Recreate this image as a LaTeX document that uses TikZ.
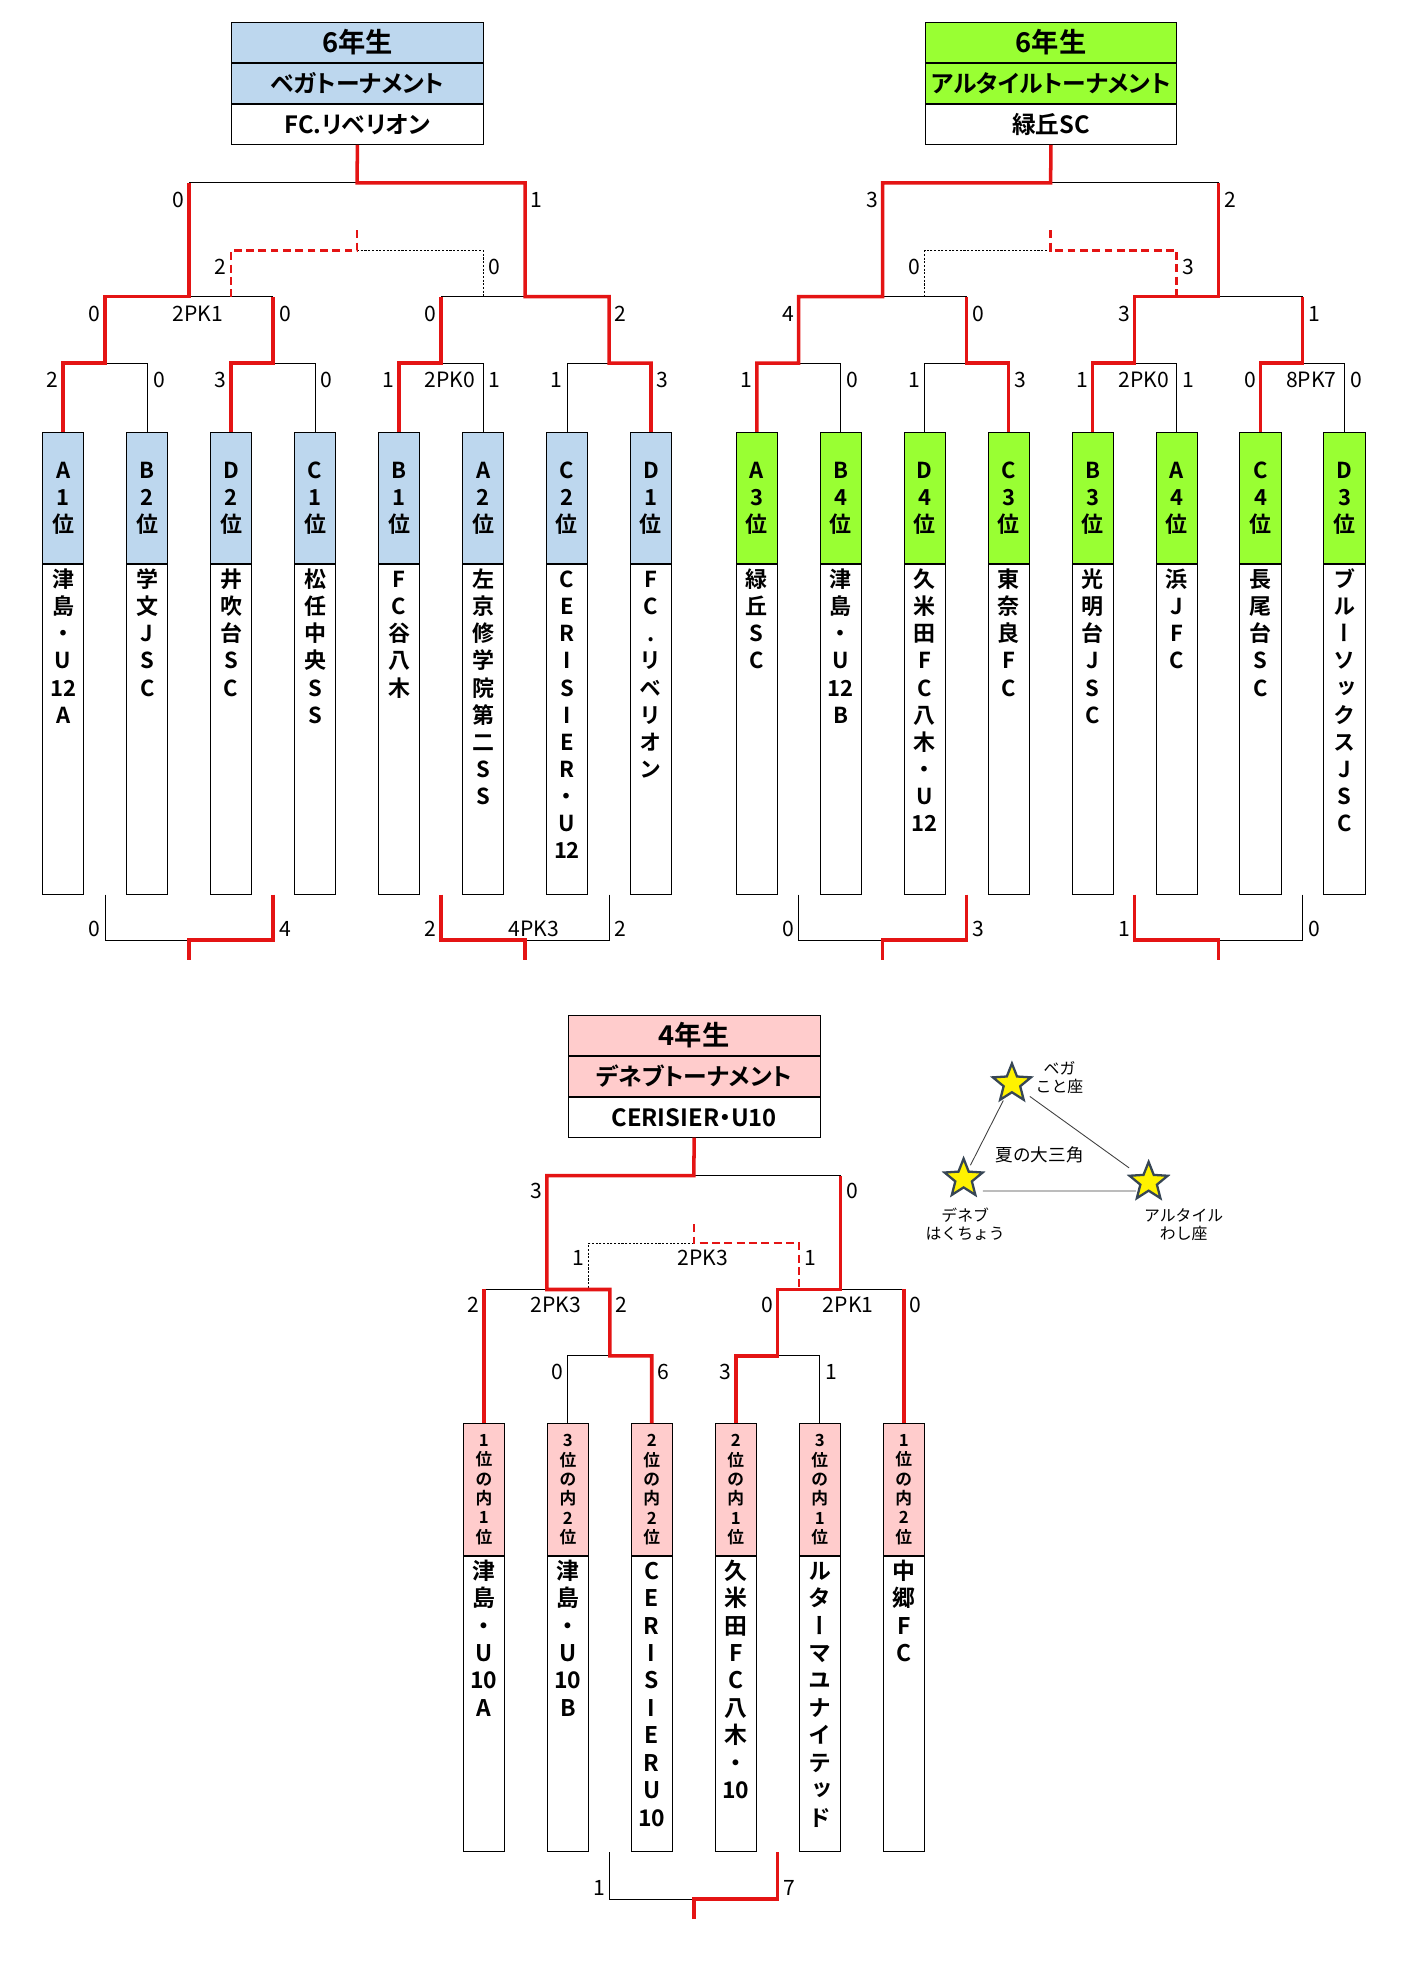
\documentclass[tikz,border=0pt]{standalone}
\usepackage{fontspec}
\setmainfont{Noto Sans CJK JP}[BoldFont={Noto Sans CJK JP Bold}]
\newfontfamily\titlejp{Noto Sans CJK JP}[BoldFont={Noto Sans CJK JP Bold}, RawFeature=+palt]
\newfontfamily\vertjp{Noto Sans CJK JP}[BoldFont={Noto Sans CJK JP Bold}, RawFeature=+vert]
\usetikzlibrary{shapes.geometric}

\definecolor{vegablue}{RGB}{189,215,238}
\definecolor{altairgreen}{RGB}{153,255,51}
\definecolor{denebpink}{RGB}{255,204,204}
\definecolor{winred}{RGB}{228,20,20}
\definecolor{staredge}{RGB}{55,70,85}

\newcommand{\teamname}[2]{\parbox[t][#1][t]{0.825cm}{\centering\rule{0pt}{13pt}#2}}

\tikzset{
  lose/.style={draw=black, line width=0.55pt},
  win/.style={draw=winred, line width=2pt},
  thirdwin/.style={draw=winred, line width=1.4pt, dash pattern=on 4.5pt off 2.5pt},
  thirdlose/.style={draw=black, line width=0.5pt, dash pattern=on 1.2pt off 0.9pt},
  titlerow/.style={draw, line width=0.5pt, minimum width=5.025cm, minimum height=0.8cm, inner sep=0pt, font=\titlejp\bfseries\fontsize{13.5}{14}\selectfont},
  gradetext/.style={font=\titlejp\bfseries\fontsize{15.5}{16}\selectfont},
  headbox/.style={draw, line width=0.5pt, fill=#1, minimum width=0.825cm, minimum height=2.625cm, inner sep=0pt, anchor=north, align=center, font=\bfseries\fontsize{12.5}{15.3}\selectfont},
  smallhead/.style={headbox=denebpink, font=\bfseries\fontsize{9.5}{11}\selectfont},
  teambox/.style={draw, line width=0.5pt, minimum width=0.825cm, inner sep=0pt, anchor=north, font=\vertjp\bfseries\fontsize{12.5}{15.4}\selectfont},
  bigteam/.style={teambox, font=\vertjp\bfseries\fontsize{13}{15.6}\selectfont},
  score/.style={inner sep=1pt, font=\fontsize{12}{13}\selectfont},
  lscore/.style={score, anchor=east},
  rscore/.style={score, anchor=west},
  starmark/.style={star, star points=5, star point ratio=2.3, minimum size=0.8cm, inner sep=0pt, fill=yellow, draw=staredge, line width=1.3pt},
  triline/.style={draw=black!75, line width=0.5pt},
  starlabel/.style={align=center, font=\fontsize{9}{10.4}\selectfont},
}

\begin{document}
\begin{tikzpicture}[x=0.025cm, y=-0.025cm]
  \useasboundingbox (0,0) rectangle (1125,1568);

  % ベガトーナメント
  \node[titlerow, fill=vegablue, gradetext] (vgrade) at (285.5,34) {6年生};
  \node[titlerow, fill=vegablue, anchor=north] (vname) at (vgrade.south) {ベガトーナメント};
  \node[titlerow, anchor=north] (vchamp) at (vname.south) {FC.リベリオン};

  \node[headbox=vegablue] (v1) at (50.5,345) {A\\1\\位};
  \node[headbox=vegablue] (v2) at (117.6,345) {B\\2\\位};
  \node[headbox=vegablue] (v3) at (184.6,345) {D\\2\\位};
  \node[headbox=vegablue] (v4) at (251.7,345) {C\\1\\位};
  \node[headbox=vegablue] (v5) at (318.8,345) {B\\1\\位};
  \node[headbox=vegablue] (v6) at (385.9,345) {A\\2\\位};
  \node[headbox=vegablue] (v7) at (452.9,345) {C\\2\\位};
  \node[headbox=vegablue] (v8) at (520.0,345) {D\\1\\位};
  \node[teambox] (v1n) at (v1.south) {\teamname{6.575cm}{津\\島\\・\\U\\12\\A}};
  \node[teambox] (v2n) at (v2.south) {\teamname{6.575cm}{学\\文\\J\\S\\C}};
  \node[teambox] (v3n) at (v3.south) {\teamname{6.575cm}{井\\吹\\台\\S\\C}};
  \node[teambox] (v4n) at (v4.south) {\teamname{6.575cm}{松\\任\\中\\央\\S\\S}};
  \node[teambox] (v5n) at (v5.south) {\teamname{6.575cm}{F\\C\\谷\\八\\木}};
  \node[teambox] (v6n) at (v6.south) {\teamname{6.575cm}{左\\京\\修\\学\\院\\第\\二\\S\\S}};
  \node[teambox] (v7n) at (v7.south) {\teamname{6.575cm}{C\\E\\R\\I\\S\\I\\E\\R\\・\\U\\12}};
  \node[teambox] (v8n) at (v8.south) {\teamname{6.575cm}{F\\C\\.\\リ\\ベ\\リ\\オ\\ン}};

  \coordinate (vF) at (285.2,146);
  \coordinate (vS1) at (151.1,237);
  \coordinate (vS2) at (419.4,237);
  \coordinate (vQ1) at (84.0,290);
  \coordinate (vQ2) at (218.2,290);
  \coordinate (vQ3) at (352.3,290);
  \coordinate (vQ4) at (486.5,290);
  \coordinate (vT) at (285.2,184);
  \coordinate (vTc) at (285.2,200);
  \coordinate (vTL) at (184.6,237);
  \coordinate (vTR) at (385.9,237);
  \coordinate (vC1) at (151.1,751);
  \coordinate (vC1e) at (151.1,767);
  \coordinate (vC2) at (419.4,751);
  \coordinate (vC2e) at (419.4,767);

  \draw[lose] (v2.north) |- (vQ1);
  \draw[lose] (v4.north) |- (vQ2);
  \draw[lose] (v6.north) |- (vQ3);
  \draw[lose] (v7.north) |- (vQ4);
  \draw[lose] (vQ2 |- vS1) -- (vS1);
  \draw[lose] (vQ3 |- vS2) -- (vS2);
  \draw[lose] (vS1 |- vF) -- (vF);
  \draw[thirdlose] (vTc) -| (vTR);
  \draw[lose] (vQ1 |- v1n.south) |- (vC1);
  \draw[lose] (vQ4 |- v1n.south) |- (vC2);
  \draw[win] (v1.north) |- (vQ1) |- (vS1) -- (vS1 |- vF);
  \draw[win] (v3.north) |- (vQ2) -- (vQ2 |- vS1);
  \draw[win] (v5.north) |- (vQ3) -- (vQ3 |- vS2);
  \draw[win] (v8.north) |- (vQ4) |- (vS2) |- (vF) -- (vchamp.south);
  \draw[thirdwin] (vT) -- (vTc) -| (vTL);
  \draw[win] (vQ2 |- v1n.south) |- (vC1) -- (vC1e);
  \draw[win] (vQ3 |- v1n.south) |- (vC2) -- (vC2e);

  \node[lscore] (vFl) at (149.1,160) {0};
  \node[rscore] (vFr) at (422.4,160) {1};
  \node[lscore] (vTl) at (182.6,213) {2};
  \node[rscore] (vTr) at (388.9,213) {0};
  \node[lscore] (vS1l) at (82.0,250.5) {0};
  \node[score] (vS1pk) at (158.1,250.5) {2PK1};
  \node[rscore] (vS1r) at (221.2,250.5) {0};
  \node[lscore] (vS2l) at (350.3,250.5) {0};
  \node[rscore] (vS2r) at (489.5,250.5) {2};
  \node[lscore] (vQ1l) at (48.5,303.5) {2};
  \node[rscore] (vQ1r) at (120.6,303.5) {0};
  \node[lscore] (vQ2l) at (182.6,303.5) {3};
  \node[rscore] (vQ2r) at (254.7,303.5) {0};
  \node[lscore] (vQ3l) at (316.8,303.5) {1};
  \node[score] (vQ3pk) at (359.5,303.5) {2PK0};
  \node[rscore] (vQ3r) at (388.9,303.5) {1};
  \node[lscore] (vQ4l) at (450.9,303.5) {1};
  \node[rscore] (vQ4r) at (523.0,303.5) {3};
  \node[lscore] (vC1l) at (82.0,742) {0};
  \node[rscore] (vC1r) at (221.2,742) {4};
  \node[lscore] (vC2l) at (350.3,742) {2};
  \node[score] (vC2pk) at (426.6,742) {4PK3};
  \node[rscore] (vC2r) at (489.5,742) {2};

  % アルタイルトーナメント
  \node[titlerow, fill=altairgreen, gradetext] (agrade) at (839.5,34) {6年生};
  \node[titlerow, fill=altairgreen, anchor=north] (aname) at (agrade.south) {アルタイルトーナメント};
  \node[titlerow, anchor=north] (achamp) at (aname.south) {緑丘SC};

  \node[headbox=altairgreen] (a1) at (604.5,345) {A\\3\\位};
  \node[headbox=altairgreen] (a2) at (671.6,345) {B\\4\\位};
  \node[headbox=altairgreen] (a3) at (738.6,345) {D\\4\\位};
  \node[headbox=altairgreen] (a4) at (805.7,345) {C\\3\\位};
  \node[headbox=altairgreen] (a5) at (872.8,345) {B\\3\\位};
  \node[headbox=altairgreen] (a6) at (939.9,345) {A\\4\\位};
  \node[headbox=altairgreen] (a7) at (1006.9,345) {C\\4\\位};
  \node[headbox=altairgreen] (a8) at (1074.0,345) {D\\3\\位};
  \node[teambox] (a1n) at (a1.south) {\teamname{6.575cm}{緑\\丘\\S\\C}};
  \node[teambox] (a2n) at (a2.south) {\teamname{6.575cm}{津\\島\\・\\U\\12\\B}};
  \node[teambox] (a3n) at (a3.south) {\teamname{6.575cm}{久\\米\\田\\F\\C\\八\\木\\・\\U\\12}};
  \node[teambox] (a4n) at (a4.south) {\teamname{6.575cm}{東\\奈\\良\\F\\C}};
  \node[teambox] (a5n) at (a5.south) {\teamname{6.575cm}{光\\明\\台\\J\\S\\C}};
  \node[teambox] (a6n) at (a6.south) {\teamname{6.575cm}{浜\\J\\F\\C}};
  \node[teambox] (a7n) at (a7.south) {\teamname{6.575cm}{長\\尾\\台\\S\\C}};
  \node[teambox] (a8n) at (a8.south) {\teamname{6.575cm}{ブ\\ル\\ー\\ソ\\ッ\\ク\\ス\\J\\S\\C}};

  \coordinate (aF) at (839.2,146);
  \coordinate (aS1) at (705.1,237);
  \coordinate (aS2) at (973.4,237);
  \coordinate (aQ1) at (638.0,290);
  \coordinate (aQ2) at (772.2,290);
  \coordinate (aQ3) at (906.3,290);
  \coordinate (aQ4) at (1040.5,290);
  \coordinate (aT) at (839.2,184);
  \coordinate (aTc) at (839.2,200);
  \coordinate (aTL) at (738.6,237);
  \coordinate (aTR) at (939.9,237);
  \coordinate (aC1) at (705.1,751);
  \coordinate (aC1e) at (705.1,767);
  \coordinate (aC2) at (973.4,751);
  \coordinate (aC2e) at (973.4,767);

  \draw[lose] (a2.north) |- (aQ1);
  \draw[lose] (a3.north) |- (aQ2);
  \draw[lose] (a6.north) |- (aQ3);
  \draw[lose] (a8.north) |- (aQ4);
  \draw[lose] (aQ2 |- aS1) -- (aS1);
  \draw[lose] (aQ4 |- aS2) -- (aS2);
  \draw[lose] (aS2 |- aF) -- (aF);
  \draw[thirdlose] (aTc) -| (aTL);
  \draw[lose] (aQ1 |- a1n.south) |- (aC1);
  \draw[lose] (aQ4 |- a1n.south) |- (aC2);
  \draw[win] (a1.north) |- (aQ1) |- (aS1) |- (aF) -- (achamp.south);
  \draw[win] (a4.north) |- (aQ2) -- (aQ2 |- aS1);
  \draw[win] (a5.north) |- (aQ3) |- (aS2) -- (aS2 |- aF);
  \draw[win] (a7.north) |- (aQ4) -- (aQ4 |- aS2);
  \draw[thirdwin] (aT) -- (aTc) -| (aTR);
  \draw[win] (aQ2 |- a1n.south) |- (aC1) -- (aC1e);
  \draw[win] (aQ3 |- a1n.south) |- (aC2) -- (aC2e);

  \node[lscore] (aFl) at (703.1,160) {3};
  \node[rscore] (aFr) at (976.4,160) {2};
  \node[lscore] (aTl) at (736.6,213) {0};
  \node[rscore] (aTr) at (942.9,213) {3};
  \node[lscore] (aS1l) at (636.0,250.5) {4};
  \node[rscore] (aS1r) at (775.2,250.5) {0};
  \node[lscore] (aS2l) at (904.3,250.5) {3};
  \node[rscore] (aS2r) at (1043.5,250.5) {1};
  \node[lscore] (aQ1l) at (602.5,303.5) {1};
  \node[rscore] (aQ1r) at (674.6,303.5) {0};
  \node[lscore] (aQ2l) at (736.6,303.5) {1};
  \node[rscore] (aQ2r) at (808.7,303.5) {3};
  \node[lscore] (aQ3l) at (870.8,303.5) {1};
  \node[score] (aQ3pk) at (913.5,303.5) {2PK0};
  \node[rscore] (aQ3r) at (942.9,303.5) {1};
  \node[lscore] (aQ4l) at (1004.9,303.5) {0};
  \node[score] (aQ4pk) at (1047.5,303.5) {8PK7};
  \node[rscore] (aQ4r) at (1077.0,303.5) {0};
  \node[lscore] (aC1l) at (636.0,742) {0};
  \node[rscore] (aC1r) at (775.2,742) {3};
  \node[lscore] (aC2l) at (904.3,742) {1};
  \node[rscore] (aC2r) at (1043.5,742) {0};

  % デネブトーナメント
  \node[titlerow, fill=denebpink, gradetext] (dgrade) at (554.5,827) {4年生};
  \node[titlerow, fill=denebpink, anchor=north] (dname) at (dgrade.south) {デネブトーナメント};
  \node[titlerow, anchor=north] (dchamp) at (dname.south) {CERISIER・U10};

  \node[smallhead] (d1) at (386.5,1137) {1\\位\\の\\内\\1\\位};
  \node[smallhead] (d2) at (453.6,1137) {3\\位\\の\\内\\2\\位};
  \node[smallhead] (d3) at (520.6,1137) {2\\位\\の\\内\\2\\位};
  \node[smallhead] (d4) at (587.7,1137) {2\\位\\の\\内\\1\\位};
  \node[smallhead] (d5) at (654.8,1137) {3\\位\\の\\内\\1\\位};
  \node[smallhead] (d6) at (721.9,1137) {1\\位\\の\\内\\2\\位};
  \node[bigteam] (d1n) at (d1.south) {\teamname{5.9cm}{津\\島\\・\\U\\10\\A}};
  \node[bigteam] (d2n) at (d2.south) {\teamname{5.9cm}{津\\島\\・\\U\\10\\B}};
  \node[bigteam] (d3n) at (d3.south) {\teamname{5.9cm}{C\\E\\R\\I\\S\\I\\E\\R\\U\\10}};
  \node[bigteam] (d4n) at (d4.south) {\teamname{5.9cm}{久\\米\\田\\F\\C\\八\\木\\・\\10}};
  \node[bigteam] (d5n) at (d5.south) {\teamname{5.9cm}{ル\\タ\\ー\\マ\\ユ\\ナ\\イ\\テ\\ッ\\ド}};
  \node[bigteam] (d6n) at (d6.south) {\teamname{5.9cm}{中\\郷\\F\\C}};

  \coordinate (dF) at (554.2,939);
  \coordinate (dS1) at (436.8,1030);
  \coordinate (dS2) at (671.5,1030);
  \coordinate (dQ1) at (487.1,1083);
  \coordinate (dQ2) at (621.2,1083);
  \coordinate (dT) at (554.2,978);
  \coordinate (dTc) at (554.2,993);
  \coordinate (dTL) at (470.2,1030);
  \coordinate (dTR) at (638.2,1030);
  \coordinate (dC) at (554.2,1517);
  \coordinate (dCe) at (554.2,1533);

  \draw[lose] (d2.north) |- (dQ1);
  \draw[lose] (d5.north) |- (dQ2);
  \draw[lose] (d1 |- dS1) -- (dS1);
  \draw[lose] (d6 |- dS2) -- (dS2);
  \draw[lose] (dS2 |- dF) -- (dF);
  \draw[thirdlose] (dTc) -| (dTL);
  \draw[lose] (dQ1 |- d1n.south) |- (dC);
  \draw[win] (d1.north) -- (d1 |- dS1);
  \draw[win] (d3.north) |- (dQ1) |- (dS1) |- (dF) -- (dchamp.south);
  \draw[win] (d4.north) |- (dQ2) |- (dS2) -- (dS2 |- dF);
  \draw[win] (d6.north) -- (d6 |- dS2);
  \draw[thirdwin] (dT) -- (dTc) -| (dTR);
  \draw[win] (dQ2 |- d1n.south) |- (dC) -- (dCe);

  \node[lscore] (dFl) at (434.8,951) {3};
  \node[rscore] (dFr) at (674.5,951) {0};
  \node[lscore] (dTl) at (468.2,1005) {1};
  \node[score] (dTpk) at (561.2,1005) {2PK3};
  \node[rscore] (dTr) at (641.2,1005) {1};
  \node[lscore] (dS1l) at (384.5,1042) {2};
  \node[score] (dS1pk) at (443.8,1042) {2PK3};
  \node[rscore] (dS1r) at (490.1,1042) {2};
  \node[lscore] (dS2l) at (619.2,1042) {0};
  \node[score] (dS2pk) at (677.5,1042) {2PK1};
  \node[rscore] (dS2r) at (724.9,1042) {0};
  \node[lscore] (dQ1l) at (451.6,1096) {0};
  \node[rscore] (dQ1r) at (523.6,1096) {6};
  \node[lscore] (dQ2l) at (585.7,1096) {3};
  \node[rscore] (dQ2r) at (657.8,1096) {1};
  \node[lscore] (dCl) at (485.1,1508) {1};
  \node[rscore] (dCr) at (624.2,1508) {7};

  % 夏の大三角
  \node[starmark] (vegastar) at (808.3,865.5) {};
  \node[starmark] (denebstar) at (769.7,941.5) {};
  \node[starmark] (altairstar) at (917.5,944.1) {};
  \draw[triline, shorten <=0.38cm, shorten >=0.3cm] (vegastar.center) -- (denebstar.center);
  \draw[triline, shorten <=0.44cm, shorten >=0.48cm] (vegastar.center) -- (altairstar.center);
  \draw[triline] ([shift={(15.4,9.8)}]denebstar.center) -- ([shift={(-10,7.2)}]altairstar.center);
  \node[starlabel] (vegatext) at (846.3,861) {ベガ\\こと座};
  \node[starlabel] (denebtext) at (771,978) {デネブ\\はくちょう};
  \node[starlabel] (altairtext) at (945.5,978) {アルタイル\\わし座};
  \node[font=\fontsize{10}{12}\selectfont] (summer) at (830.4,922.8) {夏の大三角};
\end{tikzpicture}
\end{document}
